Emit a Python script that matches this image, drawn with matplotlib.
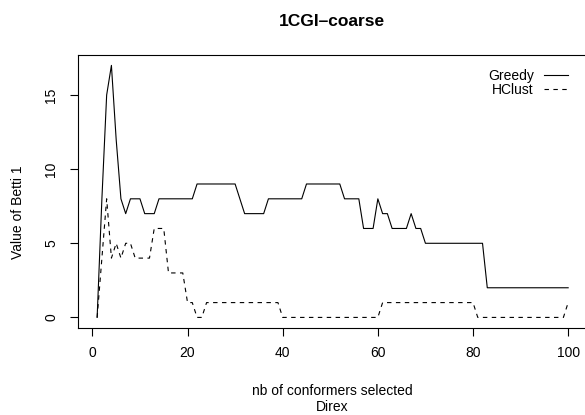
import numpy as np
import matplotlib
matplotlib.use("Agg")
import matplotlib.pyplot as plt

# ===================== data =====================
n_selected = list(range(1, 101))

greedy = [0, 8, 15, 17, 12, 8, 7, 8, 8, 8,
          7, 7, 7, 8, 8, 8, 8, 8, 8, 8,
          8, 9, 9, 9, 9, 9, 9, 9, 9, 9,
          8, 7, 7, 7, 7, 7, 8, 8, 8, 8,
          8, 8, 8, 8, 9, 9, 9, 9, 9, 9,
          9, 9, 8, 8, 8, 8, 6, 6, 6, 8,
          7, 7, 6, 6, 6, 6, 7, 6, 6, 5,
          5, 5, 5, 5, 5, 5, 5, 5, 5, 5,
          5, 5, 2, 2, 2, 2, 2, 2, 2, 2,
          2, 2, 2, 2, 2, 2, 2, 2, 2, 2]

hclust = [0, 4, 8, 4, 5, 4, 5, 5, 4, 4,
          4, 4, 6, 6, 6, 3, 3, 3, 3, 1,
          1, 0, 0, 1, 1, 1, 1, 1, 1, 1,
          1, 1, 1, 1, 1, 1, 1, 1, 1, 0,
          0, 0, 0, 0, 0, 0, 0, 0, 0, 0,
          0, 0, 0, 0, 0, 0, 0, 0, 0, 0,
          1, 1, 1, 1, 1, 1, 1, 1, 1, 1,
          1, 1, 1, 1, 1, 1, 1, 1, 1, 1,
          0, 0, 0, 0, 0, 0, 0, 0, 0, 0,
          0, 0, 0, 0, 0, 0, 0, 0, 0, 1]

x_ticks = [0, 20, 40, 60, 80, 100]
y_ticks = [0, 5, 10, 15]

# ===================== style =====================
plt.rcParams["font.family"] = ["Liberation Sans", "DejaVu Sans"]
W, H = 585, 415
fig = plt.figure(figsize=(W / 100, H / 100), dpi=100)

# R-like plot region (box runs a bit past the right edge)
left, right, top, bottom = 78.3, 587.0, 55.3, 327.5
ax = fig.add_axes([left / W, 1 - bottom / H, (right - left) / W, (bottom - top) / H])

ax.plot(n_selected, greedy, color="black", linewidth=0.8, label="Greedy")
ax.plot(n_selected, hclust, color="black", linewidth=0.8,
        linestyle=(0, (4, 4)), label="HClust")

# R pads the data range by 4%
xr = max(n_selected) - min(n_selected)
yr = max(greedy) - 0
ax.set_xlim(min(n_selected) - 0.04 * xr, max(n_selected) + 0.04 * xr)
ax.set_ylim(0 - 0.04 * yr, max(greedy) + 0.04 * yr)

ax.set_xticks(x_ticks)
ax.set_yticks(y_ticks)
ax.tick_params(direction="out", length=5.5, width=0.8, labelsize=10)
ax.tick_params(axis="x", pad=8)
ax.tick_params(axis="y", pad=9)
for lab in ax.get_yticklabels():
    lab.set_rotation(90)
    lab.set_va("center")
for s in ax.spines.values():
    s.set_linewidth(0.8)

ax.legend(loc="upper right", frameon=False, markerfirst=False, fontsize=10,
          handlelength=1.75, handletextpad=0.7, labelspacing=0.0,
          borderpad=0, borderaxespad=0,
          bbox_to_anchor=(568 / W, 1 - 69 / H), bbox_transform=fig.transFigure)

# ===================== labels =====================
fig.text(332 / W, 1 - 22 / H, "1CGI\u2013coarse", ha="center", va="center",
         fontsize=12.5, fontweight="bold")
fig.text(332 / W, 1 - 391 / H, "nb of conformers selected", ha="center", va="center", fontsize=10)
fig.text(332 / W, 1 - 407 / H, "Direx", ha="center", va="center", fontsize=10)
fig.text(18 / W, 1 - 212 / H, "Value of Betti 1", ha="center", va="center",
         rotation=90, fontsize=10)

plt.savefig("out.png", dpi=100)
plt.close()
